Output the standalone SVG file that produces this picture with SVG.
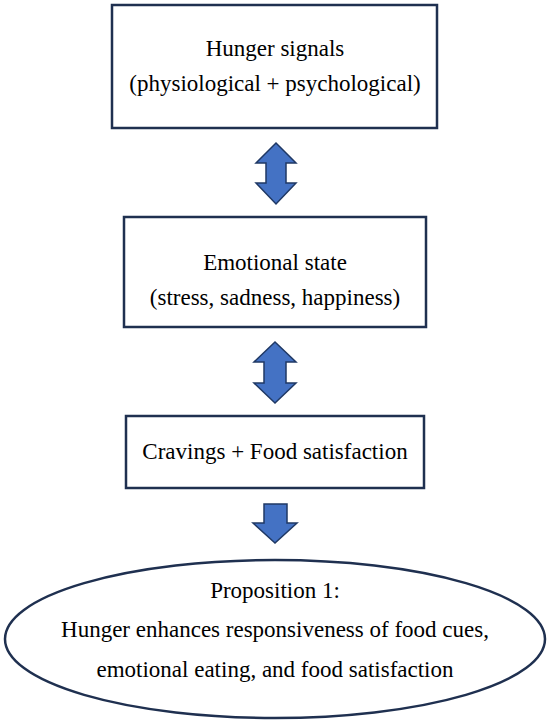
<svg xmlns="http://www.w3.org/2000/svg" width="550" height="723" viewBox="0 0 550 723">
<style>
.box{fill:#fff;stroke:#1f3050;stroke-width:2.5}
.arr{fill:#4472c4;stroke:#1f3864;stroke-width:1.5;stroke-linejoin:miter}
</style>
<rect width="550" height="723" fill="#fff"/>
<g id="connectors">
<path class="arr" d="M276,143 L296,163 L286,163 L286,183 L296,183 L276,204 L256,183 L266,183 L266,163 L256,163 Z"/>
<path class="arr" d="M275,342 L296,362 L286,362 L286,383 L296,383 L275,403 L254,383 L264,383 L264,362 L254,362 Z"/>
<path class="arr" d="M264,504 L287,504 L287,523 L297,523 L275,543 L253,523 L264,523 Z"/>
</g>
<g font-family="'Liberation Serif', 'Times New Roman', serif" font-size="23" fill="#000" text-anchor="middle">
<g id="node-hunger">
<rect class="box" x="112" y="5" width="325" height="123"/>
<text x="275" y="56">Hunger signals</text>
<text x="275" y="91">(physiological + psychological)</text>
</g>
<g id="node-emotional">
<rect class="box" x="124" y="217" width="302" height="110"/>
<text x="275" y="270">Emotional state</text>
<text x="275" y="305">(stress, sadness, happiness)</text>
</g>
<g id="node-cravings">
<rect class="box" x="126" y="416" width="298" height="72"/>
<text x="275" y="459">Cravings + Food satisfaction</text>
</g>
<g id="node-proposition">
<ellipse class="box" cx="275" cy="639" rx="270" ry="79"/>
<text x="275" y="598">Proposition 1:</text>
<text x="275" y="637">Hunger enhances responsiveness of food cues,</text>
<text x="275" y="677">emotional eating, and food satisfaction</text>
</g>
</g>
</svg>
